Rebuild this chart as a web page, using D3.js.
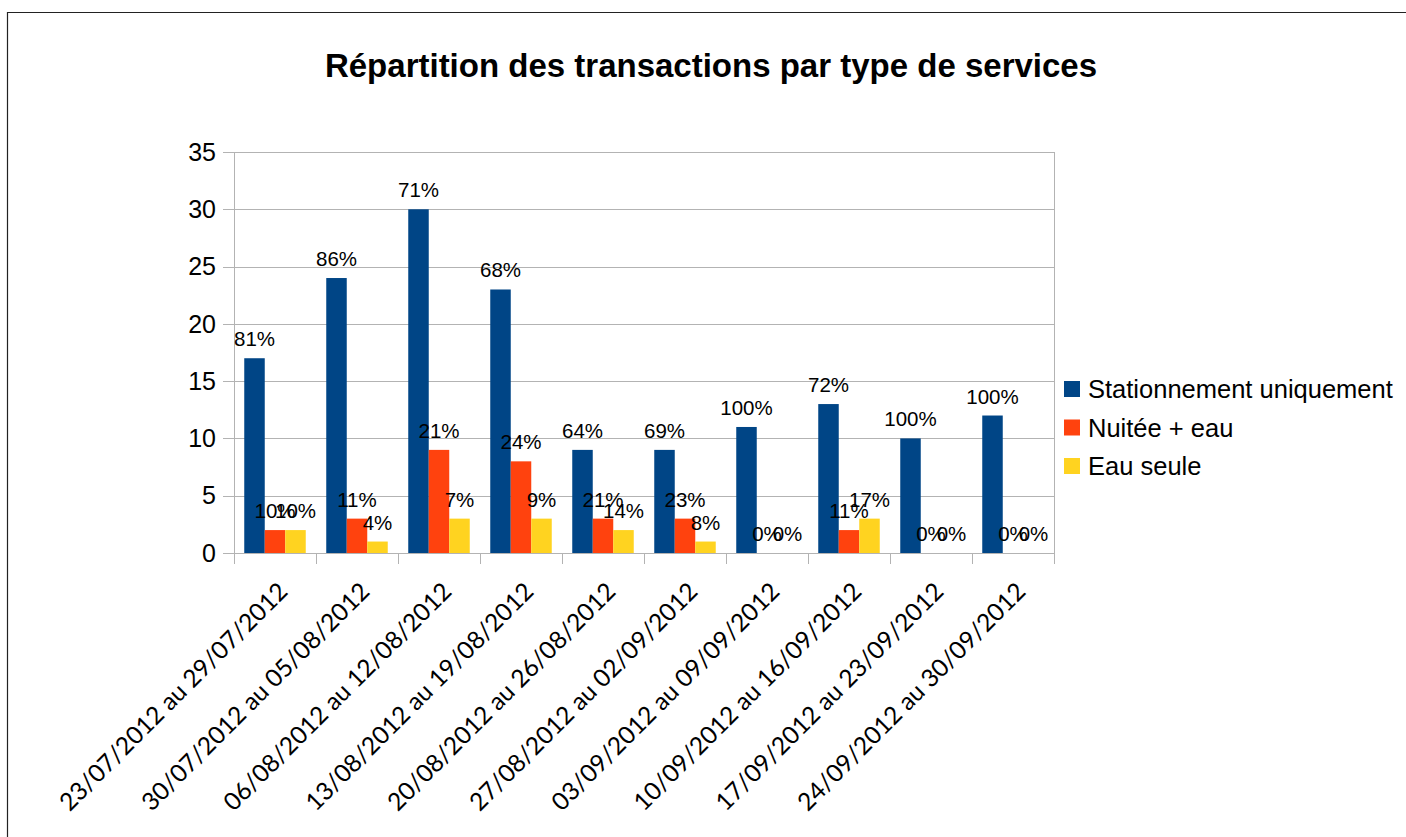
<!DOCTYPE html>
<html><head><meta charset="utf-8">
<script src="https://cdn.jsdelivr.net/npm/d3@7/dist/d3.min.js"></script>
<style>body{margin:0;background:#fff}svg{display:block}</style>
</head><body><svg id="c" width="1406" height="837"></svg>
<script>
const categories = ["23/07/2012 au 29/07/2012","30/07/2012 au 05/08/2012","06/08/2012 au 12/08/2012","13/08/2012 au 19/08/2012","20/08/2012 au 26/08/2012","27/08/2012 au 02/09/2012","03/09/2012 au 09/09/2012","10/09/2012 au 16/09/2012","17/09/2012 au 23/09/2012","24/09/2012 au 30/09/2012"];
const seriesNames = ["Stationnement uniquement","Nuitée + eau","Eau seule"];
const stationnement = [17,24,30,23,9,9,11,13,10,12];
const nuitee = [2,3,9,8,3,3,0,2,0,0];
const eauSeule = [2,1,3,3,2,1,0,3,0,0];
const yTicks = [0,5,10,15,20,25,30,35];
const colors = ["#004586","#ff420e","#ffd320"];
const title = "Répartition des transactions par type de services";

const series = [stationnement, nuitee, eauSeule];
const svg = d3.select("#c");
svg.append("rect").attr("width",1406).attr("height",837).attr("fill","#fff");
svg.append("path").attr("d","M7.5,837 L7.5,12.5 L1406,12.5").attr("fill","none").attr("stroke","#222").attr("stroke-width",1.2);

const L=234, R=1054, T=152, B=553;
const y = d3.scaleLinear().domain([0,35]).range([B,T]);
const x0 = d3.scaleBand().domain(categories).range([L,R]).paddingInner(0).paddingOuter(0);
const x1 = d3.scaleBand().domain(seriesNames).range([0,x0.bandwidth()]).paddingInner(0).paddingOuter(0.5);

const grid="#b3b3b3";
svg.append("g").selectAll("line").data(yTicks).join("line")
  .attr("x1",L-11).attr("x2",R).attr("y1",d=>Math.round(y(d))+0.5).attr("y2",d=>Math.round(y(d))+0.5)
  .attr("stroke",grid).attr("stroke-width",1);
svg.append("line").attr("x1",L+0.5).attr("x2",L+0.5).attr("y1",T).attr("y2",B+11).attr("stroke",grid);
svg.append("line").attr("x1",R+0.5).attr("x2",R+0.5).attr("y1",T).attr("y2",B+11).attr("stroke",grid);
const bounds = categories.map(c=>x0(c)).concat([R]);
svg.append("g").selectAll("line").data(bounds).join("line")
  .attr("x1",d=>Math.round(d)+0.5).attr("x2",d=>Math.round(d)+0.5).attr("y1",B).attr("y2",B+11).attr("stroke",grid);

svg.append("g").selectAll("text").data(yTicks).join("text")
  .attr("x",216).attr("y",d=>y(d)).attr("dy","0.35em").attr("text-anchor","end")
  .attr("font-family","Liberation Sans, Arial, sans-serif").attr("font-size",25).attr("fill","#000")
  .text(d=>d);

const totals = categories.map((c,i)=>series.reduce((s,a)=>s+a[i],0));
series.forEach((vals,si)=>{
  svg.append("g").selectAll("rect").data(vals).join("rect")
    .attr("x",(d,i)=>x0(categories[i])+x1(seriesNames[si]))
    .attr("width",x1.bandwidth())
    .attr("y",d=>y(d)).attr("height",d=>B-y(d))
    .attr("fill",colors[si]);
});
series.forEach((vals,si)=>{
  svg.append("g").selectAll("text").data(vals).join("text")
    .attr("x",(d,i)=>x0(categories[i])+x1(seriesNames[si])+x1.bandwidth()/2)
    .attr("y",d=>y(d)-12)
    .attr("text-anchor","middle")
    .attr("font-family","Liberation Sans, Arial, sans-serif").attr("font-size",20.5).attr("fill","#000")
    .text((d,i)=>Math.round(100*d/totals[i])+"%");
});

svg.append("g").selectAll("text").data(categories).join("text")
  .attr("transform",d=>`translate(${x0(d)+x0.bandwidth()/2+14},593) rotate(-45)`)
  .attr("text-anchor","end")
  .attr("font-family","Lato, Carlito, sans-serif").attr("font-size",24.5).attr("fill","#000")
  .text(d=>d);

svg.append("text").attr("x",711).attr("y",77).attr("text-anchor","middle")
  .attr("font-family","Liberation Sans, Arial, sans-serif").attr("font-weight","bold").attr("font-size",33)
  .attr("fill","#000").text(title);

const lg = svg.append("g");
seriesNames.forEach((n,i)=>{
  const by = 398 + i*38.5;
  lg.append("rect").attr("x",1064).attr("y",by-17).attr("width",16).attr("height",16).attr("fill",colors[i]);
  lg.append("text").attr("x",1088).attr("y",by).attr("font-family","Liberation Sans, Arial, sans-serif")
    .attr("font-size",25.5).attr("fill","#000").text(n);
});
</script></body></html>
